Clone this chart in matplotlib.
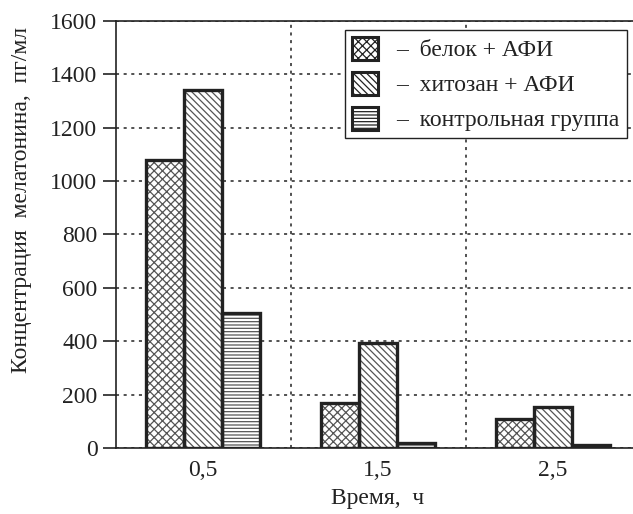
import matplotlib.pyplot as plt
import numpy as np
from matplotlib.patches import Patch

plt.rcParams['font.family'] = ['Liberation Serif', 'DejaVu Serif']
plt.rcParams['hatch.linewidth'] = 0.9

# data
times = ['0,5', '1,5', '2,5']
belok_afi = [1080, 170, 107]
chitosan_afi = [1340, 395, 155]
control = [505, 20, 10]
labels = ['–  белок + АФИ', '–  хитозан + АФИ', '–  контрольная группа']
yticks = [0, 200, 400, 600, 800, 1000, 1200, 1400, 1600]

series = [belok_afi, chitosan_afi, control]
hatches = ['xxxx', '\\\\\\\\\\', '-----']
ink = '#222222'

fig = plt.figure(figsize=(6.33, 5.14), dpi=100)
ax = fig.add_axes([115.5 / 633, 66 / 514, 525 / 633, 427 / 514])

x = np.arange(len(times)) + 0.5
w = 0.218
for i, (vals, h) in enumerate(zip(series, hatches)):
    pos = x + (i - 1) * w
    ax.bar(pos, vals, w, color='white', edgecolor='#555555', hatch=h,
           linewidth=0, zorder=3)
    ax.bar(pos, vals, w, fill=False, edgecolor=ink, linewidth=2.4, zorder=4)

ax.set_xlim(0, 3)
ax.set_ylim(0, 1600)
ax.set_xticks(x)
ax.set_xticklabels(times)
ax.set_xticks([1, 2], minor=True)
ax.set_yticks(yticks)
ax.tick_params(axis='x', which='both', length=0, pad=9, labelsize=17, colors=ink)
ax.tick_params(axis='y', length=9.5, width=1.2, pad=3.5, labelsize=17, colors=ink)
ax.grid(axis='y', which='major', linestyle=(0, (2, 3)), color=ink, linewidth=1.1, zorder=1)
ax.grid(axis='x', which='minor', linestyle=(0, (2, 3)), color=ink, linewidth=1.1, zorder=1)

for s in ['left', 'top', 'bottom']:
    ax.spines[s].set_color(ink)
    ax.spines[s].set_linewidth(1.2)
ax.spines['right'].set_visible(False)

ax.set_xlabel('Время,  ч', fontsize=17, color=ink, labelpad=5)
ax.set_ylabel('Концентрация  мелатонина,  пг/мл', fontsize=17, color=ink)
ax.yaxis.set_label_coords(-0.159, 0.58)

handles = [Patch(facecolor='white', edgecolor=ink, hatch=h, linewidth=2.2) for h in hatches]
leg = ax.legend(handles, labels, loc='upper right', bbox_to_anchor=(0.974, 0.979),
                borderaxespad=0, fontsize=17, fancybox=False, framealpha=1,
                edgecolor=ink, handlelength=1.1, handleheight=1.1,
                handletextpad=0.8, labelspacing=0.45, borderpad=0.3)
leg.get_frame().set_linewidth(1.0)
for t in leg.get_texts():
    t.set_color(ink)

fig.savefig('out.png', dpi=100)
